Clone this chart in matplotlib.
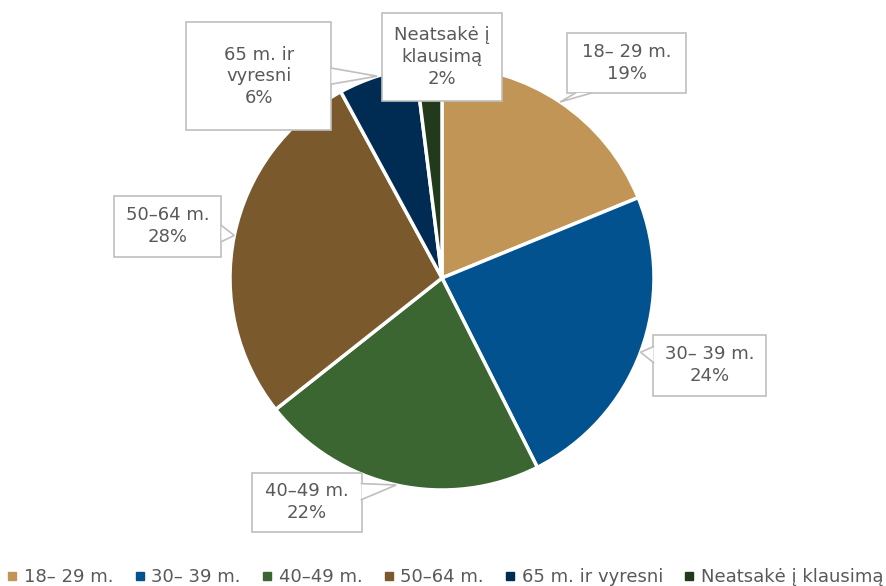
import matplotlib
matplotlib.use("Agg")
import numpy as np
import matplotlib.pyplot as plt
from matplotlib.patches import Rectangle, Polygon

plt.rcParams['font.family'] = ['DejaVu Sans']

categories = ['18– 29 m.', '30– 39 m.', '40–49 m.', '50–64 m.', '65 m. ir vyresni', 'Neatsakė į klausimą']
box_labels = ['18– 29 m.', '30– 39 m.', '40–49 m.', '50–64 m.', '65 m. ir\nvyresni', 'Neatsakė į\nklausimą']
values = [19, 24, 22, 28, 6, 2]
colors = ['#C09556', '#02528F', '#3B6531', '#7A5A2D', '#002C54', '#203A1B']

PX = 212.0  # pixels per data unit (pie radius)
# label box centres and sizes, in pixels relative to the pie centre (y up)
box_center_px = [(185, 215), (268, -87), (-135, -224), (-274, 52), (-183, 202), (0, 221)]
box_size_px = [(119, 60), (113, 61), (109, 59), (107, 61), (145, 108), (120, 88)]
has_pointer = [True, True, True, True, True, False]

text_color = '#595959'
edge_gray = '#BFBFBF'

fig = plt.figure(figsize=(8.86, 5.86), dpi=100)
ax = fig.add_axes([0, 0, 1, 1])

wedges, _ = ax.pie(values, colors=colors, startangle=90, counterclock=False,
                   radius=1, center=(0, 0),
                   wedgeprops={'edgecolor': 'white', 'linewidth': 2.5})
ax.set_xlim(-442 / PX, 444 / PX)
ax.set_ylim(-308 / PX, 278 / PX)
ax.set_aspect('auto')
ax.axis('off')


def callout(ax, cx, cy, w, h, tip, text, base=16):
    x0, x1, y0, y1 = cx - w / 2, cx + w / 2, cy - h / 2, cy + h / 2
    ax.add_patch(Rectangle((x0, y0), w, h, fc='white', ec=edge_gray, lw=1.2, zorder=4))
    if tip is not None:
        tx, ty = tip
        dx, dy = tx - cx, ty - cy
        # which side of the box faces the tip
        sx = (w / 2) / abs(dx) if dx else np.inf
        sy = (h / 2) / abs(dy) if dy else np.inf
        b = base / PX
        if sx < sy:
            xe = x1 if dx > 0 else x0
            ym = np.clip(cy + dy * sx, y0 + b, y1 - b)
            p1, p2 = (xe, ym - b / 2), (xe, ym + b / 2)
        else:
            ye = y1 if dy > 0 else y0
            xm = np.clip(cx + dx * sy, x0 + b, x1 - b)
            p1, p2 = (xm - b / 2, ye), (xm + b / 2, ye)
        ax.add_patch(Polygon([p1, (tx, ty), p2], closed=True, fc='white', ec='none', zorder=5))
        ax.plot([p1[0], tx, p2[0]], [p1[1], ty, p2[1]], color=edge_gray, lw=1.2, zorder=6,
                solid_joinstyle='miter')
    ax.text(cx, cy, text, ha='center', va='center', fontsize=13, color=text_color,
            linespacing=1.25, zorder=7)


for w, lab, v, (bx, by), (bw, bh), ptr in zip(wedges, box_labels, values, box_center_px,
                                              box_size_px, has_pointer):
    ang = np.deg2rad((w.theta1 + w.theta2) / 2)
    tip = (np.cos(ang), np.sin(ang)) if ptr else None
    callout(ax, bx / PX, by / PX, bw / PX, bh / PX, tip, f'{lab}\n{v}%')

handles = [plt.Line2D([], [], marker='s', linestyle='none', markersize=5.5,
                      markerfacecolor=c, markeredgecolor=c) for c in colors]
fig.legend(handles, categories, loc='center', bbox_to_anchor=(0.503, 1 - 577 / 586),
           ncol=6, frameon=False, fontsize=13, handlelength=0.5, handletextpad=0.4,
           columnspacing=1.2, labelcolor=text_color, borderaxespad=0, borderpad=0)

fig.savefig('out.png', dpi=100)
